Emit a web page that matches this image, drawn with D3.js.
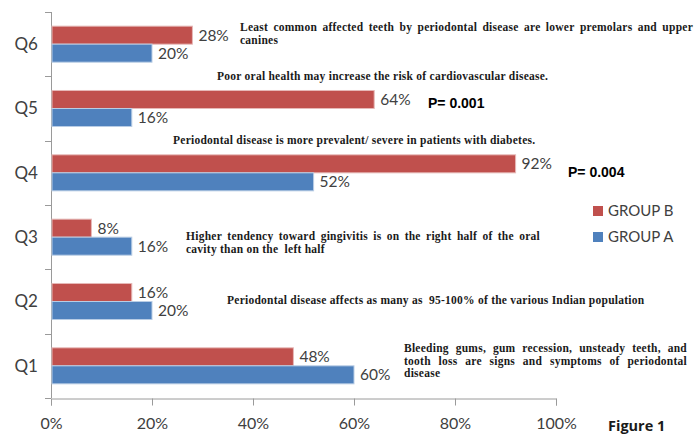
<!DOCTYPE html>
<html>
<head>
<meta charset="utf-8">
<script src="https://cdn.jsdelivr.net/npm/d3@7"></script>
<style>
  body { margin: 0; background: #fff; }
  svg { display: block; }
</style>
</head>
<body>
<div class="svg-container"></div>
<script>
(function () {

	"use strict";

	// data
	var categories = ["Q1", "Q2", "Q3", "Q4", "Q5", "Q6"];
	var groupB = [48, 16, 8, 92, 64, 28];
	var groupA = [60, 20, 16, 52, 16, 20];
	var seriesNames = ["GROUP B", "GROUP A"];
	var xTicks = [0, 20, 40, 60, 80, 100];

	// annotation texts, one entry per line
	var notes = [
		["Least common affected teeth by periodontal disease are lower premolars and upper", "canines"],
		["Poor oral health may increase the risk of cardiovascular disease."],
		["Periodontal disease is more prevalent/ severe in patients with diabetes."],
		["Higher tendency toward gingivitis is on the right half of the oral", "cavity than on the  left half"],
		["Periodontal disease affects as many as  95-100% of the various Indian population"],
		["Bleeding gums, gum recession, unsteady teeth, and", "tooth loss are signs and symptoms of periodontal", "disease"]
	];
	var pValues = ["P= 0.001", "P= 0.004"];
	var figureLabel = "Figure 1";

	// layout of the annotations (left, first baseline, justified width)
	var noteLayout = [
		{ x: 240, y: 31, w: 453 },
		{ x: 217, y: 80, w: 0 },
		{ x: 173, y: 144, w: 0 },
		{ x: 186, y: 240, w: 354 },
		{ x: 227, y: 304, w: 0 },
		{ x: 404, y: 352, w: 283 }
	];
	var pLayout = [{ x: 428, y: 108 }, { x: 568, y: 177 }];

	var colors = { "GROUP B": "#C0504D", "GROUP A": "#4F81BD" },
		edges = { "GROUP B": "#E6B9B8", "GROUP A": "#B9CDE5" };

	var width = 694, height = 434,
		left = 51, right = 556, top = 12, bottom = 398;

	var svg = d3.select(".svg-container").append("svg")
		.attr("width", width)
		.attr("height", height);

	var x = d3.scaleLinear().domain([0, 100]).range([left, right]);

	var y = d3.scaleBand()
		.domain(categories.slice().reverse())
		.range([top, bottom])
		.paddingInner(0.44)
		.paddingOuter(0.22);

	var inner = d3.scaleBand()
		.domain(seriesNames)
		.range([0, y.bandwidth()]);

	var rows = categories.map(function (c, i) {
		return { cat: c, values: [
			{ name: "GROUP B", value: groupB[i] },
			{ name: "GROUP A", value: groupA[i] }
		] };
	});

	// axes
	var axisColor = "#9a9a9a";
	var step = y.step();
	var yEdges = d3.range(categories.length + 1).map(function (i) { return top + i * step; });

	svg.append("line")
		.attr("x1", left + 0.5).attr("x2", left + 0.5)
		.attr("y1", top).attr("y2", bottom)
		.attr("stroke", axisColor);

	svg.selectAll(".ytick")
		.data(yEdges)
		.enter().append("line")
		.attr("class", "ytick")
		.attr("x1", left - 6).attr("x2", left)
		.attr("y1", function (d) { return Math.round(d) + 0.5; })
		.attr("y2", function (d) { return Math.round(d) + 0.5; })
		.attr("stroke", axisColor);

	var xAxis = svg.append("g")
		.attr("transform", "translate(0," + (bottom + 0.5) + ")")
		.call(d3.axisBottom(x).tickValues(xTicks).tickSize(7).tickPadding(12)
			.tickFormat(function (d) { return d + "%"; }));

	xAxis.select(".domain").attr("stroke", axisColor);
	xAxis.selectAll(".tick line").attr("stroke", axisColor);
	xAxis.selectAll(".tick text")
		.attr("font-family", "Lato, 'Open Sans', sans-serif")
		.attr("font-size", 16)
		.attr("fill", "#404040");

	svg.selectAll(".cat")
		.data(categories)
		.enter().append("text")
		.attr("class", "cat")
		.attr("x", 38)
		.attr("y", function (d) { return y(d) + y.bandwidth() / 2; })
		.attr("dy", "0.35em")
		.attr("text-anchor", "end")
		.attr("font-family", "Lato, 'Open Sans', sans-serif")
		.attr("font-size", 17)
		.attr("fill", "#404040")
		.text(function (d) { return d; });

	// bars
	var groups = svg.selectAll(".row")
		.data(rows)
		.enter().append("g")
		.attr("class", "row")
		.attr("transform", function (d) { return "translate(0," + y(d.cat) + ")"; });

	groups.selectAll("rect")
		.data(function (d) { return d.values; })
		.enter().append("rect")
		.attr("x", x(0) + 1)
		.attr("y", function (d) { return inner(d.name); })
		.attr("width", function (d) { return x(d.value) - x(0) - 1; })
		.attr("height", inner.bandwidth())
		.attr("fill", function (d) { return colors[d.name]; })
		.attr("stroke", function (d) { return edges[d.name]; })
		.attr("stroke-width", 1);

	groups.selectAll(".val")
		.data(function (d) { return d.values; })
		.enter().append("text")
		.attr("class", "val")
		.attr("x", function (d) { return x(d.value) + 6; })
		.attr("y", function (d) { return inner(d.name) + inner.bandwidth() / 2; })
		.attr("dy", "0.36em")
		.attr("font-family", "Lato, 'Open Sans', sans-serif")
		.attr("font-size", 15.5)
		.attr("fill", "#404040")
		.text(function (d) { return d.value + "%"; });

	// legend
	var legend = svg.selectAll(".legend")
		.data(seriesNames)
		.enter().append("g")
		.attr("class", "legend")
		.attr("transform", function (d, i) { return "translate(593," + (211 + i * 26) + ")"; });

	legend.append("rect")
		.attr("x", 0).attr("y", -5)
		.attr("width", 10).attr("height", 10)
		.attr("fill", function (d) { return colors[d]; });

	legend.append("text")
		.attr("x", 15)
		.attr("dy", "0.36em")
		.attr("font-family", "Lato, 'Open Sans', sans-serif")
		.attr("font-size", 15)
		.attr("fill", "#404040")
		.text(function (d) { return d; });

	// annotations, justified like the original text boxes
	var lineHeight = 12.5;
	notes.forEach(function (lines, n) {
		var box = noteLayout[n];
		lines.forEach(function (line, j) {
			var t = svg.append("text")
				.attr("y", box.y + j * lineHeight)
				.attr("font-family", "'Liberation Serif', 'DejaVu Serif', serif")
				.attr("font-weight", "bold")
				.attr("font-size", 11.5)
				.attr("letter-spacing", 0.25)
				.attr("fill", "#1a1a1a");
			var justify = box.w > 0 && j < lines.length - 1;
			if (!justify) {
				t.attr("x", box.x).attr("xml:space", "preserve").text(line);
				return;
			}
			var words = line.split(/\s+/);
			var spans = words.map(function (w) { return t.append("tspan").text(w); });
			var widths = spans.map(function (s) { return s.node().getComputedTextLength(); });
			var gap = (box.w - d3.sum(widths)) / (words.length - 1);
			var cx = box.x;
			spans.forEach(function (s, k) {
				s.attr("x", cx);
				cx += widths[k] + gap;
			});
		});
	});

	svg.selectAll(".pval")
		.data(pValues)
		.enter().append("text")
		.attr("class", "pval")
		.attr("x", function (d, i) { return pLayout[i].x; })
		.attr("y", function (d, i) { return pLayout[i].y; })
		.attr("font-family", "'Liberation Sans', Arial, sans-serif")
		.attr("font-weight", "bold")
		.attr("font-size", 14)
		.attr("fill", "#000")
		.text(function (d) { return d; });

	svg.append("text")
		.attr("x", 608)
		.attr("y", 431)
		.attr("font-family", "'Open Sans', 'Liberation Sans', sans-serif")
		.attr("font-weight", "bold")
		.attr("font-size", 14.5)
		.attr("fill", "#1a1a1a")
		.text(figureLabel);

})();
</script>
</body>
</html>
